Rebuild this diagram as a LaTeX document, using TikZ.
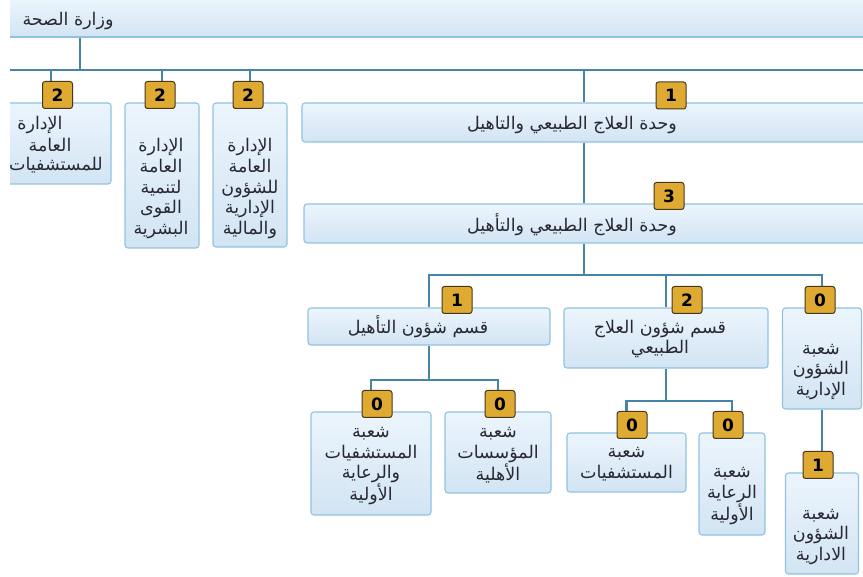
\documentclass[tikz,border=0pt]{standalone}
\usepackage{fontspec}
\setmainfont{DejaVu Sans}
\newfontfamily\arabicfont[Script=Arabic]{DejaVu Sans}
\TeXXeTstate=1
\newcommand{\artxt}[1]{{\arabicfont\beginR #1\endR}}
\definecolor{linec}{RGB}{70,133,165}
\definecolor{boxborder}{RGB}{145,195,224}
\definecolor{boxtop}{RGB}{236,245,253}
\definecolor{boxbot}{RGB}{210,228,243}
\definecolor{badgefill}{RGB}{222,170,50}
\definecolor{badgeborder}{RGB}{70,55,30}
\definecolor{txtc}{RGB}{40,40,50}
\tikzset{
  orgbox/.style={draw=boxborder, line width=1.1pt, rounded corners=3pt, top color=boxtop, bottom color=boxbot, inner sep=0pt},
  conn/.style={draw=linec, line width=2.4pt},
  badge/.style={draw=badgeborder, fill=badgefill, line width=1pt, rounded corners=2.5pt, minimum width=30pt, minimum height=27pt, inner sep=0pt, font=\fontsize{17}{17}\selectfont\bfseries, text=black},
  lbl/.style={font=\fontsize{17.5}{20.7}\selectfont, text=txtc, align=center, inner sep=0pt}
}
\begin{document}
\begin{tikzpicture}[x=1pt,y=-1pt]
\useasboundingbox (0,0) rectangle (863,577);
\begin{scope}
\clip (10,-2) rectangle (863,579);
% top bar
\node[draw=boxborder, line width=1.1pt, top color=boxtop, bottom color=boxbot, inner sep=0pt, minimum width=910pt, minimum height=38pt] (top) at (445,18) {};
\node[lbl] (topt) at (68,21) {\artxt{وزارة الصحة}};
% coordinates
\coordinate (hub) at (80,70);
\coordinate (busL) at (-10,70);
\coordinate (busR) at (900,70);
\coordinate (ux) at (584,0);
\coordinate (bus2) at (0,275);
\coordinate (bus3) at (0,380);
\coordinate (bus4) at (0,401);
% boxes
\node[orgbox, minimum width=120pt, minimum height=81pt] (L1) at (51,143.5) {};
\node[orgbox, minimum width=74pt, minimum height=145pt] (L2) at (162,175.5) {};
\node[orgbox, minimum width=74pt, minimum height=144pt] (L3) at (250,175) {};
\node[orgbox, minimum width=598pt, minimum height=39pt] (U1) at (601,122.5) {};
\node[orgbox, minimum width=596pt, minimum height=39pt] (U3) at (602,223.5) {};
\node[orgbox, minimum width=242pt, minimum height=37pt] (Q1) at (429,326.5) {};
\node[orgbox, minimum width=204pt, minimum height=60pt] (Q2) at (666,338) {};
\node[orgbox, minimum width=79pt, minimum height=101pt] (S0) at (822,358.5) {};
\node[orgbox, minimum width=73pt, minimum height=101pt] (S1) at (822,523.5) {};
\node[orgbox, minimum width=120pt, minimum height=103pt] (A) at (371,463.5) {};
\node[orgbox, minimum width=106pt, minimum height=81pt] (B) at (498,452.5) {};
\node[orgbox, minimum width=119pt, minimum height=59pt] (C) at (626.5,462.5) {};
\node[orgbox, minimum width=66pt, minimum height=102pt] (D) at (732,484) {};
% connectors
\draw[conn] (top.south -| hub) -- (hub);
\draw[conn] (busL) -- (busR);
\draw[conn] (L1.north |- hub) -- (L1.north);
\draw[conn] (L2.north |- hub) -- (L2.north);
\draw[conn] (L3.north |- hub) -- (L3.north);
\draw[conn] (ux |- hub) -- (ux |- U1.north);
\draw[conn] (ux |- U1.south) -- (ux |- U3.north);
\draw[conn] (ux |- U3.south) -- (ux |- bus2);
\draw[conn] (Q1.north) -- (Q1.north |- bus2) -- (S0.north |- bus2) -- (S0.north);
\draw[conn] (Q2.north |- bus2) -- (Q2.north);
\draw[conn] (S0.south) -- (S1.north);
\draw[conn] (Q1.south) -- (Q1.south |- bus3);
\draw[conn] (A.north) -- (A.north |- bus3) -- (B.north |- bus3) -- (B.north);
\draw[conn] (Q2.south) -- (Q2.south |- bus4);
\draw[conn] (C.north) -- (C.north |- bus4) -- (D.north |- bus4) -- (D.north);
% texts
\node[lbl] (L1a) at (40,125) {\artxt{الإدارة}};
\node[lbl] (L1b) at (50,145) {\artxt{العامة}};
\node[lbl, anchor=east] (L1c) at (103,165) {\artxt{للمستشفيات}};
\node[lbl] (L2t) at (161,188.5) {\artxt{الإدارة}\\\artxt{العامة}\\\artxt{لتنمية}\\\artxt{القوى}\\\artxt{البشرية}};
\node[lbl] (L3t) at (250,188.5) {\artxt{الإدارة}\\\artxt{العامة}\\\artxt{للشؤون}\\\artxt{الإدارية}\\\artxt{والمالية}};
\node[lbl] (U1t) at (572,125) {\artxt{وحدة العلاج الطبيعي والتاهيل}};
\node[lbl] (U3t) at (572,225) {\artxt{وحدة العلاج الطبيعي والتأهيل}};
\node[lbl] (Q1t) at (418,327) {\artxt{قسم شؤون التأهيل}};
\node[lbl] (Q2t) at (660,339) {\artxt{قسم شؤون العلاج}\\\artxt{الطبيعي}};
\node[lbl] (S0t) at (821,372) {\artxt{شعبة}\\\artxt{الشؤون}\\\artxt{الإدارية}};
\node[lbl] (S1t) at (821,537) {\artxt{شعبة}\\\artxt{الشؤون}\\\artxt{الادارية}};
\node[lbl] (At) at (371,466) {\artxt{شعبة}\\\artxt{المستشفيات}\\\artxt{والرعاية}\\\artxt{الأولية}};
\node[lbl] (Bt) at (498,455) {\artxt{شعبة}\\\artxt{المؤسسات}\\\artxt{الأهلية}};
\node[lbl] (Ct) at (626.5,464.5) {\artxt{شعبة}\\\artxt{المستشفيات}};
\node[lbl] (Dt) at (732,496) {\artxt{شعبة}\\\artxt{الرعاية}\\\artxt{الأولية}};
% badges
\node[badge] (bL1) at (57.5,95) {2};
\node[badge] (bL2) at (160,95) {2};
\node[badge] (bL3) at (248,95) {2};
\node[badge] (bU1) at (671,95.5) {1};
\node[badge] (bU3) at (669,196) {3};
\node[badge] (bQ1) at (457,300) {1};
\node[badge] (bQ2) at (687,300) {2};
\node[badge] (bS0) at (820,300) {0};
\node[badge] (bA) at (377,404) {0};
\node[badge] (bB) at (500,404) {0};
\node[badge] (bC) at (632,425) {0};
\node[badge] (bD) at (728,425) {0};
\node[badge] (bS1) at (818,465) {1};
\end{scope}
\end{tikzpicture}
\end{document}
